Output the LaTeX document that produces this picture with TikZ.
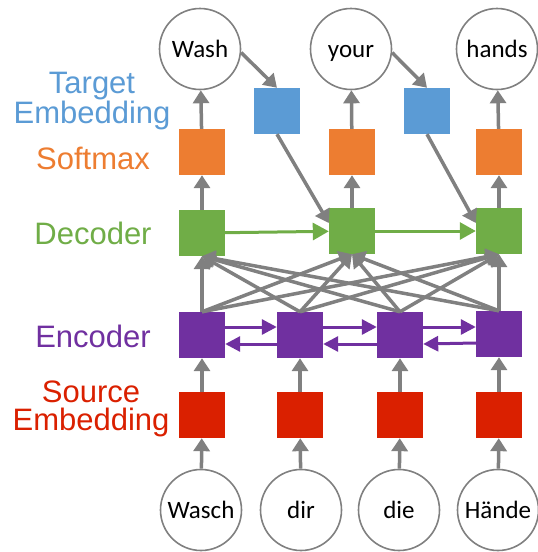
\documentclass[tikz,border=0pt]{standalone}
\usepackage{fontspec}
\setmainfont{Liberation Sans}
\newfontfamily\wordfont{Carlito}
\usetikzlibrary{arrows.meta}
\definecolor{tgtblue}{RGB}{91,155,213}
\definecolor{smorange}{RGB}{237,125,49}
\definecolor{decgreen}{RGB}{112,173,71}
\definecolor{encpurple}{RGB}{112,48,160}
\definecolor{srcred}{RGB}{218,32,0}
\definecolor{arrgray}{RGB}{128,128,128}
\begin{document}
\begin{tikzpicture}[x=1pt,y=-1pt,
    sq/.style={minimum size=46pt,inner sep=0pt},
    word/.style={circle,draw=arrgray,line width=1.6pt,minimum size=81pt,inner sep=0pt,text height=17pt,text depth=0pt,font=\wordfont\fontsize{25}{25}\selectfont},
    lab/.style={align=center,font=\fontsize{31}{28}\selectfont},
    arr/.style={draw=arrgray,line width=3.5pt,-{Triangle[length=13pt,width=16pt]}},
    encarr/.style={draw=encpurple,line width=3pt,-{Triangle[length=15pt,width=15pt]}},
    decarr/.style={draw=decgreen,line width=3pt,-{Triangle[length=16pt,width=17pt]}}]
                    \useasboundingbox (0,0) rectangle (538,552);
                    \node [lab, text=tgtblue] (ltgt) at (92,101) {Target\\Embedding};
                    \node [lab, text=smorange] (lsm) at (93,158) {Softmax};
                    \node [lab, text=decgreen] (ldec) at (93,233) {Decoder};
                    \node [lab, text=encpurple] (lenc) at (93,336) {Encoder};
                    \node [lab, text=srcred] (lsrc) at (91,409) {Source\\Embedding};
                    \node [word] (wash) at (200,49) {Wash};
                    \node [word] (your) at (351,49) {your};
                    \node [word] (hands) at (497,49) {hands};
                    \node [sq, fill=tgtblue] (te1) at (277,111) {};
                    \node [sq, fill=tgtblue] (te2) at (427,111) {};
                    \node [sq, fill=smorange] (sm1) at (202,152) {};
                    \node [sq, fill=smorange] (sm2) at (352,152) {};
                    \node [sq, fill=smorange] (sm3) at (499,152) {};
                    \node [sq, fill=decgreen] (dec1) at (202,233) {};
                    \node [sq, fill=decgreen] (dec2) at (352,231) {};
                    \node [sq, fill=decgreen] (dec3) at (499,231) {};
                    \node [sq, fill=encpurple] (enc1) at (202,335) {};
                    \node [sq, fill=encpurple] (enc2) at (300,335) {};
                    \node [sq, fill=encpurple] (enc3) at (400,335) {};
                    \node [sq, fill=encpurple] (enc4) at (499,334) {};
                    \node [sq, fill=srcred] (se1) at (202,415) {};
                    \node [sq, fill=srcred] (se2) at (300,415) {};
                    \node [sq, fill=srcred] (se3) at (400,415) {};
                    \node [sq, fill=srcred] (se4) at (499,415) {};
                    \node [word] (wasch) at (201,510) {Wasch};
                    \node [word] (dir) at (301,510) {dir};
                    \node [word] (die) at (399,510) {die};
                    \node [word] (haende) at (498,510) {Hände};
                    \draw [arr] (wasch) -- (se1);
                    \draw [arr] (dir) -- (se2);
                    \draw [arr] (die) -- (se3);
                    \draw [arr] (haende) -- (se4);
                    \draw [arr] (se1) -- (enc1);
                    \draw [arr] (se2) -- (enc2);
                    \draw [arr] (se3) -- (enc3);
                    \draw [arr] (se4) -- (enc4);
                    \draw [encarr] ([yshift=8pt]enc1.east) -- ([yshift=8pt]enc2.west);
                    \draw [encarr] ([yshift=8pt]enc2.east) -- ([yshift=8pt]enc3.west);
                    \draw [encarr] ([yshift=8pt]enc3.east) -- ([yshift=7pt]enc4.west);
                    \draw [encarr] ([yshift=-9pt]enc4.west) -- ([yshift=-9pt]enc3.east);
                    \draw [encarr] ([yshift=-9pt]enc3.west) -- ([yshift=-9pt]enc2.east);
                    \draw [encarr] ([yshift=-9pt]enc2.west) -- ([yshift=-9pt]enc1.east);
                    \draw [arr] (enc1.north) -- (dec1.south);
                    \draw [arr] (enc1.north) -- (dec2.south);
                    \draw [arr] (enc1.north) -- (dec3.south);
                    \draw [arr] (enc2.north) -- (dec1.south);
                    \draw [arr] (enc2.north) -- (dec2.south);
                    \draw [arr] (enc2.north) -- (dec3.south);
                    \draw [arr] (enc3.north) -- (dec1.south);
                    \draw [arr] (enc3.north) -- (dec2.south);
                    \draw [arr] (enc3.north) -- (dec3.south);
                    \draw [arr] (enc4.north) -- (dec1.south);
                    \draw [arr] (enc4.north) -- (dec2.south);
                    \draw [arr] (enc4.north) -- (dec3.south);
                    \draw [decarr] (dec1) -- (dec2);
                    \draw [decarr] (dec2) -- (dec3);
                    \draw [arr] (dec1) -- (sm1);
                    \draw [arr] (dec2) -- (sm2);
                    \draw [arr] (dec3) -- (sm3);
                    \draw [arr] (sm1) -- (wash);
                    \draw [arr] (sm2) -- (your);
                    \draw [arr] (sm3) -- (hands);
                    \draw [arr] (wash.-5) -- (te1.north);
                    \draw [arr] (your.-5) -- (te2.north);
                    \draw [arr] (te1.south) -- ([yshift=8pt]dec2.west);
                    \draw [arr] (te2.south) -- ([yshift=8pt]dec3.west);
                \end{tikzpicture}
\end{document}
